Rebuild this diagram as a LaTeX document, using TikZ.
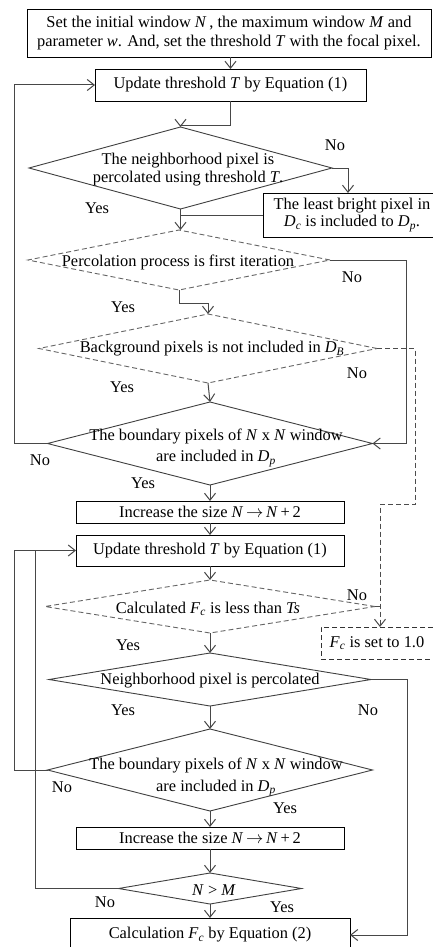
\documentclass[tikz,border=0pt]{standalone}
\usepackage{fontspec}
\setmainfont{Liberation Serif}
\usetikzlibrary{arrows.meta,shapes.geometric,calc}
\newcommand\myfs{\fontsize{16.4}{18.3}\selectfont}
\newcommand\mysub[1]{\textsubscript{\textit{#1}}}
\begin{document}
\begin{tikzpicture}[x=1pt,y=-1pt,
  box/.style={draw=black, line width=0.9pt, inner sep=0pt, outer sep=0pt, font=\myfs, align=center},
  dbox/.style={box, draw=black!80, dash pattern=on 5pt off 3pt},
  dia/.style={draw=black!75, line width=0.9pt, diamond, inner sep=0pt, outer sep=0pt, aspect=1},
  ddia/.style={dia, draw=black!60, dash pattern=on 5pt off 3pt},
  txt/.style={font=\myfs, inner sep=0pt, align=center},
  lab/.style={font=\myfs, inner sep=0pt},
  con/.style={draw=black!72, line width=1pt},
  arr/.style={con, -{Straight Barb[length=7pt,width=11pt,line width=1pt]}},
  dsh/.style={dash pattern=on 5pt off 3pt, draw=black!70}
]
\useasboundingbox (0,0) rectangle (432,947);
\fill[white] (0,0) rectangle (432,947);

% boxes
\node[box, minimum width=404pt, minimum height=48pt] (b1) at (229,33)
  {Set the initial window \textit{N}\,, the maximum window \textit{M} and\\parameter \textit{w}. And, set the threshold \textit{T} with the focal pixel.};
\node[box, minimum width=271pt, minimum height=32pt] (b2) at (230.5,85)
  {Update threshold \textit{T} by Equation (1)};
\node[box, minimum width=170pt, minimum height=44pt] (b3) at (348,215)
  {\hspace*{8pt}The least bright pixel in\\[-1.5pt]\hspace*{8pt}\textit{D}\mysub{c} is included to \textit{D}\mysub{p}.};
\node[box, minimum width=268pt, minimum height=22pt] (b4) at (210,512)
  {Increase the size \textit{N}\,$\rightarrow$\,\textit{N}\,+\,2};
\node[box, minimum width=268pt, minimum height=31pt] (b5) at (210,550.5)
  {Update threshold \textit{T} by Equation (1)};
\node[dbox, minimum width=112pt, minimum height=32pt] (b6) at (377,643)
  {\textit{F}\mysub{c} is set to 1.0};
\node[box, minimum width=268pt, minimum height=22pt] (b7) at (210,838)
  {Increase the size \textit{N}\,$\rightarrow$\,\textit{N}\,+\,2};
\node[box, minimum width=280pt, minimum height=34pt] (b8) at (210,935)
  {\raisebox{2pt}{Calculation \textit{F}\mysub{c} by Equation (2)}};

% diamonds
\node[dia, minimum width=303pt, minimum height=82pt] (d1) at (180.5,168) {};
\node[ddia, minimum width=302pt, minimum height=60pt] (d2) at (179,260) {};
\node[ddia, minimum width=338pt, minimum height=69pt] (d3) at (208,348.5) {};
\node[dia, minimum width=325pt, minimum height=83pt] (d4) at (210,443.5) {};
\node[ddia, minimum width=330pt, minimum height=53pt] (d5) at (210,606.5) {};
\node[dia, minimum width=322pt, minimum height=53pt] (d6) at (210,679.5) {};
\node[dia, minimum width=325pt, minimum height=82pt] (d7) at (210,770) {};
\node[dia, minimum width=183pt, minimum height=31pt] (d8) at (210,888.5) {};

% diamond texts
\node[txt] (t1) at (188,169.5) {The neighborhood pixel is\\percolated using threshold \textit{T}.};
\node[txt] (t2) at (178,262) {Percolation process is first iteration};
\node[txt] (t3) at (212,349) {Background pixels is not included in \textit{D}\mysub{B}};
\node[txt] (t4) at (216,448) {The boundary pixels of \textit{N} x \textit{N} window\\[3pt]are included in \textit{D}\mysub{p}};
\node[txt] (t5) at (208,609) {Calculated \textit{F}\mysub{c} is less than \textit{Ts}};
\node[txt] (t6) at (210,681) {Neighborhood pixel is percolated};
\node[txt] (t7) at (216,777) {The boundary pixels of \textit{N} x \textit{N} window\\[3.5pt]are included in \textit{D}\mysub{p}};
\node[txt] (t8) at (214,890) {\textit{N} > \textit{M}};

% labels
\node[lab] (l1) at (335,145) {No};
\node[lab] (l2) at (97,208) {Yes};
\node[lab] (l3) at (352,277) {No};
\node[lab] (l4) at (123,307) {Yes};
\node[lab] (l5) at (357,373) {No};
\node[lab] (l6) at (122,387) {Yes};
\node[lab] (l7) at (40,460) {No};
\node[lab] (l8) at (143,483) {Yes};
\node[lab] (l9) at (357,595) {No};
\node[lab] (l10) at (128,645) {Yes};
\node[lab] (l11) at (123,710) {Yes};
\node[lab] (l12) at (368,710) {No};
\node[lab] (l13) at (62,787) {No};
\node[lab] (l14) at (285,808) {Yes};
\node[lab] (l15) at (105,902) {No};
\node[lab] (l16) at (282,907) {Yes};

% helper coordinates
\coordinate (L1) at (14,0);
\coordinate (L2) at (35,0);
\coordinate (R1) at (406,0);
\coordinate (R4) at (407,0);
\coordinate (R2) at (415,504);
\coordinate (R3) at (380,504);

% connectors
\draw[arr] (b2.north |- b1.south) -- (b2.north);
\draw[arr] (b2.south) -- ++(0,25) -| (d1.north);
\draw[arr] (d4.west) -- (d4.west -| L1) |- (b2.west);
\draw[arr] (d1.east) -| (b3.north);
\draw[con] (b3.west) -- (b3.west -| d1.south);
\draw[arr] (d1.south) -- (d1.south |- d2.north);
\draw[arr] (d2.east) -- (d2.east -| R1) |- (d4.east);
\draw[arr] (d2.south) -- ++(0,13) -| (d3.north);
\draw[arr,dsh] (d3.east) -| (R2) -- (R3) -- (R3 |- b6.north);
\draw[con,dsh] (d5.east) -- (d5.east -| R3);
\draw[arr] (d3.south) -- (d4.north);
\draw[arr] (d4.south) -- (b4.north);
\draw[arr] (b4.south) -- (b5.north);
\draw[arr] (b5.south) -- (d5.north);
\draw[arr] (d5.south) -- (d6.north);
\draw[arr] (d6.south) -- (d7.north);
\draw[arr] (d7.south) -- (b7.north);
\draw[arr] (b7.south) -- (d8.north);
\draw[arr] (d8.south) -- (b8.north);
\draw[arr] (d6.east) -- (d6.east -| R4) |- (b8.east);
\draw[arr] (d7.west) -- (d7.west -| L1) |- (b5.west);
\draw[con] (d8.west) -- (d8.west -| L2) -- (L2 |- b5.west);
\end{tikzpicture}
\end{document}
